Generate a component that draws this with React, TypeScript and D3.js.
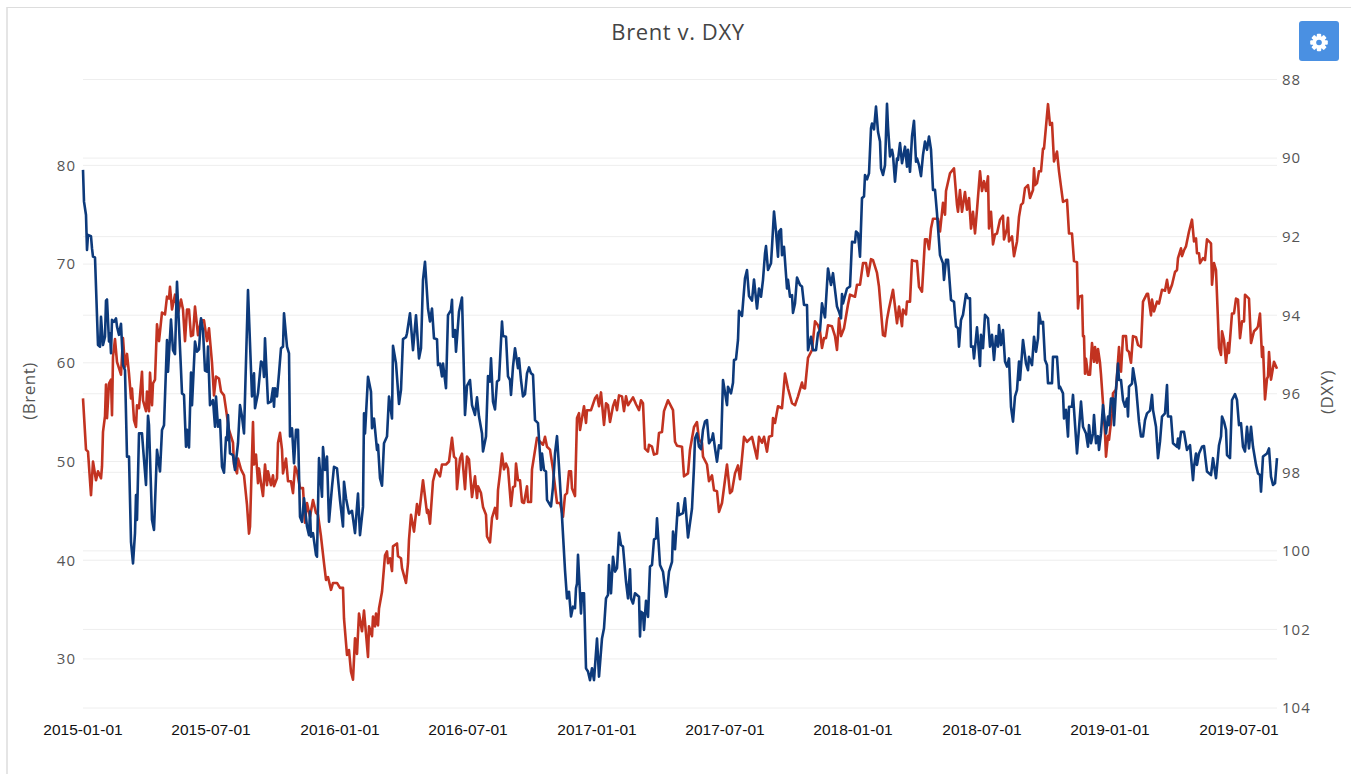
import React, { useEffect, useRef } from "react";
import * as d3 from "d3";

const title = "Brent v. DXY";
const brentTicks = [30, 40, 50, 60, 70, 80];
const dxyTicks = [88, 90, 92, 94, 96, 98, 100, 102, 104];
const tickSessions = [0, 128, 257, 385, 514, 642, 770, 899, 1027, 1156];
const tickLabels = ["2015-01-01", "2015-07-01", "2016-01-01", "2016-07-01", "2017-01-01", "2017-07-01", "2018-01-01", "2018-07-01", "2019-01-01", "2019-07-01"];

// session number since 2015-01-01 and value
const brentSessions = [0,3,5,8,10,13,15,18,19,20,22,23,24,26,28,29,30,32,34,38,40,42,44,46,48,49,51,53,54,56,59,60,63,64,66,67,69,70,72,74,76,79,82,84,86,87,89,92,95,98,100,102,104,106,108,110,112,115,118,121,124,126,129,131,133,136,138,141,144,146,150,151,154,155,158,161,164,166,167,169,170,171,173,175,176,178,180,182,184,185,188,190,191,194,195,197,199,200,203,205,208,210,212,214,217,220,222,224,227,230,233,235,238,241,243,245,248,250,254,257,260,261,264,266,268,270,272,274,276,279,281,285,286,289,290,292,293,295,296,299,302,304,305,307,309,310,314,315,318,319,323,325,326,328,331,334,336,340,344,345,347,350,353,357,359,363,366,369,371,373,374,377,379,382,384,386,389,392,394,395,398,400,403,404,407,409,412,414,415,417,419,421,423,425,428,430,432,433,435,437,439,441,444,445,448,449,454,457,460,462,464,467,470,474,477,480,482,484,486,488,489,492,494,496,497,501,503,504,508,512,514,516,518,521,523,525,527,530,532,534,536,539,541,543,545,550,553,556,558,560,562,565,566,569,571,574,576,579,581,585,590,592,594,599,601,605,607,611,614,616,619,620,624,626,629,631,634,636,639,644,647,649,652,655,657,661,664,669,674,676,679,681,684,686,689,690,692,695,699,702,705,709,712,715,719,720,722,725,729,732,735,737,739,741,743,745,749,752,754,756,758,761,765,767,772,774,777,780,783,785,788,790,794,796,800,802,804,806,810,814,816,819,820,823,824,827,829,832,834,836,839,842,844,846,848,850,855,857,860,862,863,867,871,874,875,877,879,882,884,886,888,890,892,894,897,899,901,903,905,906,908,910,912,914,917,920,921,924,925,926,929,931,934,936,938,940,942,945,947,950,951,952,954,956,958,960,961,965,967,969,971,974,976,980,984,986,989,991,994,995,996,999,1000,1001,1002,1003,1005,1007,1009,1011,1012,1014,1015,1017,1018,1020,1022,1023,1025,1026,1029,1030,1033,1036,1037,1038,1040,1043,1044,1046,1048,1050,1053,1055,1058,1060,1064,1065,1068,1069,1071,1074,1076,1079,1082,1084,1086,1089,1092,1094,1095,1098,1099,1101,1103,1106,1109,1111,1113,1114,1116,1117,1120,1122,1124,1128,1129,1131,1133,1135,1136,1138,1139,1141,1143,1145,1146,1149,1151,1153,1155,1157,1159,1161,1162,1166,1168,1171,1174,1175,1177,1179,1180,1182,1184,1185,1186,1188,1191,1194];
const brentValues = [56.4,51.2,51,46.6,50,48.1,49,48.3,49.5,53,54.6,57.8,54.4,57.9,58.3,54.7,60.6,62.4,60.1,58.8,62.5,59.6,60.9,58.9,56.4,57.4,54.2,53.5,55.7,55.4,59.1,56.2,55.1,57.1,55.1,59,55.7,57.9,58.3,63.9,62.2,65.1,64.9,66.7,66.5,67.7,65.4,66.9,65,66.4,65.4,62.2,65.4,65.4,62.7,62.8,65.7,62.8,64.3,64.3,62.2,63.5,60,56.7,58.6,58.4,57.1,56.7,54.6,53.2,51.9,49.7,48.8,50.3,49.2,48.6,45.6,42.7,43.4,50.5,54,49.7,50.7,47.8,49.3,47.8,46.5,49.7,47.6,49,47.6,48.6,47.5,48.3,51.9,52.9,51.2,48.8,50.3,48,48,46.8,49.5,49,47.3,47.3,43.8,45.8,44.4,46.1,44.8,44.6,42.4,39.7,38,38.3,37,37.7,37.7,37.2,37.2,34.1,30.4,30.9,28.7,27.9,32.1,30.5,34.6,32.8,34.9,30.2,33.3,32.3,34.3,33.3,34.6,33.4,35.1,36.8,40.5,40.9,39.7,40.2,38.9,41.4,41.7,40.4,40.2,39.2,37.7,39.7,42.1,44.6,42.9,45.7,44.6,48.1,44.8,45.1,43.7,48,49.2,48.5,49.7,49.7,50,52.4,50.5,50.3,47.2,50.3,50.8,47.2,50.5,50.2,46.4,48.5,46.3,47.5,46.8,45.4,44.6,42.4,41.8,44.3,45.3,44.2,47.1,48.8,50.8,49.2,49.8,49.3,45.5,47.4,47.5,49.8,48.1,48.1,45.9,45.8,47.5,45.9,45.9,49.2,52.4,52,51.7,52.5,51.5,51.2,49.2,45.8,45.8,44.4,46.6,46.8,49,49,47.3,46.5,54.4,54.9,53.2,55.6,53.9,55.2,55.2,56.4,56.7,55.6,57,53.7,55.9,55.7,54,55.6,56.2,55.2,56.7,56.6,55.1,56.6,55.7,56.5,55.8,55.2,56.2,55.9,51.3,51,51.7,51.5,50.7,50.8,52.9,53,55.1,56.2,55.2,52,51.6,51.5,48.5,48.8,51.2,53.5,54,52.2,51.9,50.5,49.7,48,48.6,47.1,47,44.9,45.8,49.7,46.8,47,48.8,49.6,48.2,52.5,52,52.5,50.3,52.5,51.9,52.5,51,52.5,52.6,54.4,53.9,55.6,55.4,58.9,57.4,55.9,55.7,56.6,58,57.5,57.4,60.5,61.3,64.2,63.8,63.2,61.5,62.5,62.5,63.8,63.7,62.7,61.3,64.5,62.7,63.5,65.9,66.9,66.7,67.9,67.9,70.1,70.1,68.8,70.5,70.4,69.1,67.7,62.8,62.7,64.4,65.5,67.4,64,65.7,63.7,65.4,64.9,66.2,66.2,70.4,70.3,70.3,67.7,67.2,72.5,72.5,71.5,73.6,74.6,74.6,73.3,76.2,75,77.4,79.2,79.7,76,75.3,77.5,75.3,77.3,75.5,76.7,73.6,75.3,73.1,75.5,79.4,77.4,78.4,77.4,78.9,73.6,75.3,72,73,73.1,74.5,74.9,72.5,73.6,74.7,72.3,72.8,70.8,72.3,74.8,76,76.2,77.7,78,76.7,77.5,79.7,78,78.2,79.4,79.4,81.7,81.7,86.2,84.1,84.3,80.4,81.4,79.4,76.3,76.5,73.1,73.1,70.3,70.2,65.5,66.7,66.8,62.7,62.7,58.9,60.4,58.8,58.8,62,60.1,61.6,60,61.4,60,58.8,55.9,52.9,50.5,52.6,52.2,54.9,56.9,57.3,61.6,59.3,59.1,62.7,62.7,61.3,61.1,60,62.7,62.6,61.8,61.6,66.2,67,67,64.8,66.4,65.2,66.2,66,67.4,67.3,68.4,67.1,67.9,69.2,69.4,70.6,71.6,70.8,71.4,71.8,73.3,74.5,72.3,72.6,71.1,71.1,70.1,70.6,70.4,72.5,72.1,67.9,70.1,69.4,64.3,61.5,60.8,63.2,62.3,60,62,61,65,65,66.5,66.4,62.5,64.2,64.2,66.9,66.5,62,63.2,63.5,63.7,65,60.6,61.6,56.3,58.4,58.6,61.1,58.3,60.1,59.4];
const dxySessions = [0,1,3,4,5,8,9,10,12,15,17,18,20,22,23,24,26,27,28,29,31,33,34,36,38,40,42,44,46,48,50,52,53,54,56,59,60,63,65,66,69,71,74,77,79,81,84,85,88,90,92,94,98,99,101,103,104,106,108,109,112,114,116,118,120,122,124,125,127,130,132,133,135,137,139,141,143,144,145,147,150,152,155,157,159,161,165,169,171,172,175,178,180,181,182,185,188,190,191,192,194,196,198,200,201,204,206,207,209,211,213,215,217,219,221,224,226,227,228,230,233,234,236,239,240,242,244,246,249,251,254,257,260,261,263,266,269,272,275,277,280,281,282,285,288,289,291,294,295,297,299,301,304,306,309,310,313,316,318,320,323,324,327,330,333,336,338,340,342,345,347,349,351,354,355,357,359,360,363,365,368,369,370,372,373,376,379,382,384,387,389,392,394,396,399,400,403,405,407,408,410,412,414,416,419,420,423,425,427,428,430,432,435,436,438,440,442,444,446,448,450,452,455,458,459,461,463,464,468,470,472,474,476,479,482,484,486,488,490,492,493,494,495,498,499,501,503,505,507,509,511,514,516,519,521,523,525,526,528,530,532,534,536,538,540,543,545,547,548,550,552,556,557,558,560,561,563,565,567,569,571,573,574,577,580,583,584,586,589,590,592,595,596,600,602,605,609,611,612,614,616,618,620,622,624,626,629,630,632,634,636,638,640,644,645,648,650,651,653,655,656,659,660,662,664,666,669,671,674,676,678,680,682,683,685,688,689,691,693,695,696,698,699,701,704,705,707,709,710,712,714,717,719,721,724,725,728,730,733,735,737,739,740,742,745,748,750,754,756,758,759,760,764,767,769,772,773,775,777,779,781,782,784,786,788,789,791,793,795,797,798,800,802,804,805,807,809,810,812,814,815,817,819,822,824,825,827,829,831,833,834,836,838,840,842,844,846,848,850,852,854,857,860,861,863,865,868,871,872,873,875,876,878,880,883,885,887,888,890,891,894,897,898,900,902,905,907,909,911,913,915,916,918,920,922,924,926,928,930,932,934,936,937,940,943,945,946,949,951,953,955,956,958,960,962,964,965,969,970,974,976,977,980,981,983,985,986,989,990,994,996,998,1000,1003,1005,1006,1008,1010,1011,1013,1015,1016,1018,1020,1023,1025,1026,1028,1030,1031,1033,1035,1036,1038,1040,1042,1044,1045,1046,1049,1050,1053,1056,1058,1060,1062,1064,1067,1069,1070,1073,1075,1077,1079,1082,1084,1085,1088,1090,1094,1095,1096,1098,1101,1104,1107,1110,1111,1113,1114,1116,1119,1121,1124,1128,1130,1133,1136,1138,1139,1141,1143,1144,1147,1149,1152,1154,1156,1158,1160,1162,1164,1166,1168,1170,1173,1175,1177,1178,1180,1184,1186,1188,1190,1192,1194];
const dxyValues = [90.3,91.11,91.45,92.34,91.96,91.99,92.3,92.51,92.53,94.76,94.8,94.04,94.76,94.55,93.63,93.6,94.67,94.46,94.97,94.12,94.17,94.08,94.29,94.5,94.22,95.27,95.4,97.6,97.6,99.77,100.32,99.55,98.58,99.21,97.01,97.01,97.35,98.32,96.56,96.8,99.21,99.47,97.43,97.98,96.92,96.8,94.63,95.44,94.11,94.89,94.99,93.15,95.4,95.99,96.03,97.35,96.92,97.37,95.46,96.29,94.67,94.93,94.87,94.08,94.38,95.41,95.44,94.8,96.29,96.16,96.84,96.07,96.84,96.67,97.86,98.01,97.11,97.18,96.54,97.52,97.56,97.94,97.26,96.29,96.58,97.01,93.36,96.07,95.48,96.37,95.99,95.18,95.23,95.57,94.59,96.24,96.2,95.86,96.33,95.86,96.07,95.48,94.84,94.8,93.95,94.8,94.97,97.09,96.88,97.77,96.92,96.92,99.13,99.26,98.66,99.38,99.6,99,99.64,99.55,100.1,100.15,97.64,98.62,97.36,97.94,97.6,99.26,98.37,97.86,97.9,98.71,99.38,98.24,98.66,99.05,98.98,99.55,98.54,99.6,98.88,96.5,97.01,95.57,95.95,96.88,96.63,97.43,97.3,98.15,98.34,97.26,97.09,96.07,96.63,94.78,95.23,96.26,95.9,94.61,94.56,94.46,93.95,94.89,94,95.1,94.84,93.1,92.64,93.83,94.16,93.83,94.59,94.61,95.27,95.23,95.56,95.23,95.86,94,93.87,93.61,94.55,94.38,94.93,93.91,93.55,96.54,95.8,95.65,96.29,96.54,96.09,96.58,97.01,97.47,97.09,95.55,95.69,95.1,96.2,96.4,95.69,95.65,94.16,94.53,94.55,95.56,95.65,96.03,95.31,94.84,95.35,95.1,95.65,96.07,96.01,95.48,95.33,95.48,95.52,96.67,96.75,97.94,97.52,97.94,97.98,98.7,98.87,98.37,97.52,97.08,97.86,99.13,100.49,101.21,101.04,101.67,101.42,101.46,100.95,100.83,100.1,101.59,101.08,101.08,102.99,103.07,103.29,102.99,103.29,102.23,103.2,102.23,101.97,101.21,101.12,100.36,101.08,100.15,100.53,100.44,99.54,99.85,99.89,100.78,101.21,100.47,101.21,101.34,101.08,101.17,102.18,101.55,101.59,102.01,101.27,101.68,100.4,100.36,99.71,99.68,99.17,100.36,100.53,101.17,101.04,100.53,100.28,99.51,99.96,98.79,99.09,99.04,98.66,99.66,98.92,97.86,97.14,97.01,97.35,97.41,96.92,96.71,96.67,97.26,97.14,97.01,97.39,97.73,97.31,97.39,95.65,96.29,95.82,95.99,95.72,95.14,95.12,94.63,93.89,94.02,93.7,93.06,92.85,93.51,93.63,93.09,93.83,93.32,93.53,93.1,92.43,92.24,92.85,92.68,92.26,91.36,91.87,92.51,91.87,91.81,92.47,92.26,93.32,93.1,93.53,93.49,93.94,93.7,93.04,93.23,93.27,93.74,93.74,94.89,94.55,94.89,94.89,94.46,94.38,93.7,93.83,94.06,92.81,93.23,92.93,93.78,93.91,94.08,93.46,93.7,93.32,93.27,92.13,92.15,91.87,91.92,92.51,91.02,90.98,90.43,90.54,90.39,89.24,89.12,89.27,88.69,89.33,89.58,90.26,90.43,90.18,88.62,89.2,89.96,89.79,89.92,90.6,90.01,90.05,89.62,90.13,89.71,90.22,89.79,90.35,89.45,89.05,90.09,90.01,90.18,90.46,89.92,89.58,89.79,89.45,89.79,90.81,90.81,91.41,92.47,92.68,93.1,92.59,92.59,93.61,93.66,93.99,94.29,94.33,94.8,94.12,93.99,93.46,93.57,93.57,94.8,94.8,95.1,94.31,95.29,94.5,94.84,93.99,94.08,94.8,94.5,95.14,94.53,94.8,94.25,94.76,94.38,95.18,95.31,95.1,96.33,96.71,96.07,95.9,95.18,95.65,94.63,95.23,95.4,95.06,95.27,94.55,94.93,94.59,93.94,94.21,94.17,95.14,95.27,95.73,95.73,95.06,95.06,95.86,95.82,95.99,96.63,96.41,97.09,96.33,96.33,96.03,97.52,96.88,96.2,96.84,97.01,97.35,96.8,97.26,97.01,96.54,97.26,97.08,97.43,97.01,96.29,97.01,96.58,96.8,96.12,96.12,96.8,95.9,95.23,95.65,95.65,96.16,96.33,96.12,96.58,95.82,95.74,95.35,95.82,96.71,97.09,97.09,96.67,96.5,96.43,96.03,96.41,96.84,97.64,97.22,96.58,96.5,95.78,96.58,96.58,97.26,97.35,97.14,97.39,96.97,96.97,97.43,97.31,98.2,97.86,97.52,97.81,97.52,97.35,97.33,97.98,98.07,97.64,98.15,97.31,97.09,96.58,96.71,96.92,97.56,97.64,96.16,96.01,96.16,96.8,96.75,97.35,97.47,96.84,97.39,96.84,97.35,97.81,98.03,98.07,98.49,97.6,97.52,97.39,98.11,98.32,98.28,97.64];

const W = 1351;
const H = 774;
const plot = { left: 83, right: 1277, top: 79.5, bottom: 708 };
const labelFont = "'Open Sans', sans-serif";

function zip(xs: number[], ys: number[]): [number, number][] {
  return xs.slice(0, Math.min(xs.length, ys.length)).map((x, i) => [x, ys[i]]);
}

export default function App() {
  const ref = useRef<SVGSVGElement>(null);

  useEffect(() => {
    const svg = d3.select(ref.current);
    svg.selectAll("*").remove();

    const x = d3.scaleLinear().domain([0, 1194]).range([plot.left, plot.right]);
    const yBrent = d3.scaleLinear().domain([25.03, 88.7]).range([plot.bottom, plot.top]);
    const yDxy = d3.scaleLinear().domain([88, 104]).range([plot.top, plot.bottom]);

    // frame of the page the chart sat on
    svg.append("line").attr("x1", 7).attr("x2", W).attr("y1", 7.5).attr("y2", 7.5).attr("stroke", "#ddd");
    svg.append("line").attr("x1", 7).attr("x2", 7).attr("y1", 7).attr("y2", H).attr("stroke", "#ddd").attr("stroke-width", 1.5);

    const gridLines = (ticks: number[], scale: d3.ScaleLinear<number, number>) =>
      svg.append("g").selectAll("line").data(ticks).enter().append("line")
        .attr("x1", plot.left).attr("x2", plot.right)
        .attr("y1", d => scale(d)).attr("y2", d => scale(d))
        .attr("stroke", "#eee").attr("stroke-width", 1);
    gridLines(dxyTicks, yDxy);
    gridLines(brentTicks, yBrent);

    const left = svg.append("g").attr("transform", `translate(${plot.left - 7},0)`)
      .call(d3.axisLeft(yBrent).tickValues(brentTicks).tickSize(0).tickPadding(0));
    const right = svg.append("g").attr("transform", `translate(${plot.right + 5},0)`)
      .call(d3.axisRight(yDxy).tickValues(dxyTicks).tickSize(0).tickPadding(0));
    [left, right].forEach(g => {
      g.select(".domain").remove();
      g.selectAll("text").attr("fill", "#555").style("font-family", labelFont).style("font-size", "15px").style("letter-spacing", "1px");
    });

    svg.append("g").selectAll("text").data(tickSessions).enter().append("text")
      .attr("x", d => x(d)).attr("y", 735).attr("text-anchor", "middle")
      .style("font-family", "'Liberation Sans', Arial, sans-serif").style("font-size", "15.5px").attr("fill", "#111")
      .text((_, i) => tickLabels[i]);

    const line = d3.line<[number, number]>().curve(d3.curveLinear);
    svg.append("path").datum(zip(brentSessions, brentValues))
      .attr("d", line.x(d => x(d[0])).y(d => yBrent(d[1])))
      .attr("fill", "none").attr("stroke", "#c23321").attr("stroke-width", 2.6).attr("stroke-linejoin", "round");
    svg.append("path").datum(zip(dxySessions, dxyValues))
      .attr("d", line.x(d => x(d[0])).y(d => yDxy(d[1])))
      .attr("fill", "none").attr("stroke", "#0d3a7b").attr("stroke-width", 2.6).attr("stroke-linejoin", "round");

    svg.append("text").attr("x", 678).attr("y", 40).attr("text-anchor", "middle")
      .style("font-family", labelFont).style("font-size", "22px").style("letter-spacing", "0.6px").attr("fill", "#444").text(title);

    svg.append("text").attr("transform", "translate(35,391) rotate(-90)").attr("text-anchor", "middle")
      .style("font-family", labelFont).style("font-size", "17px").style("letter-spacing", "0.5px").attr("fill", "#555").text("(Brent)");
    svg.append("text").attr("transform", "translate(1333,392) rotate(-90)").attr("text-anchor", "middle")
      .style("font-family", labelFont).style("font-size", "17px").style("letter-spacing", "0.5px").attr("fill", "#555").text("(DXY)");

    // settings button
    const button = svg.append("g").attr("transform", "translate(1319,42.5)");
    button.append("rect").attr("x", -20).attr("y", -21.5).attr("width", 40).attr("height", 40).attr("rx", 3).attr("fill", "#4a90e2");
    button.selectAll("rect.tooth").data(d3.range(4)).enter().append("rect").attr("class", "tooth")
      .attr("x", -2.2).attr("y", -8.8).attr("width", 4.4).attr("height", 17.6)
      .attr("rx", 1).attr("fill", "#fff").attr("transform", d => `rotate(${d * 45})`);
    button.append("circle").attr("r", 6.4).attr("fill", "#fff");
    button.append("circle").attr("r", 2.8).attr("fill", "#4a90e2");
  }, []);

  return <svg ref={ref} width={W} height={H} style={{ position: "absolute", left: 0, top: 0, display: "block" }} />;
}
